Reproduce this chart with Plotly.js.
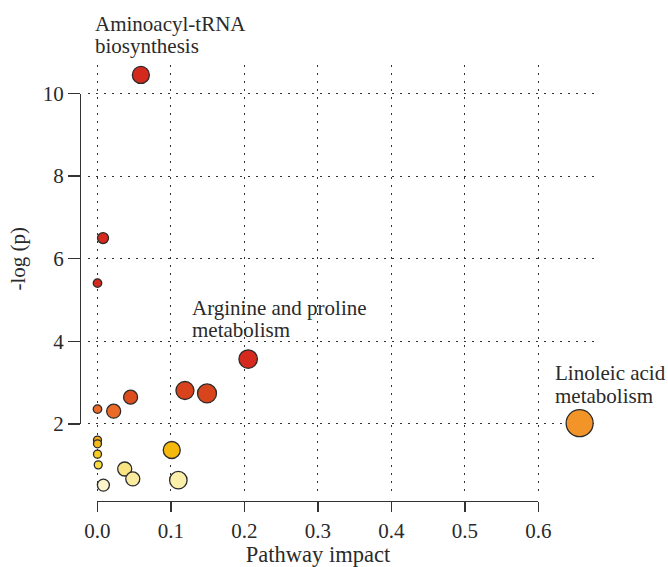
<!DOCTYPE html>
<html>
<head>
<meta charset="utf-8">
<script src="https://cdn.plot.ly/plotly-3.0.1.min.js"></script>
<style>html,body{margin:0;padding:0;background:#fff;}#chart{width:668px;height:567px;}</style>
</head>
<body>
<div id="chart"></div>
<script>
// Pathway analysis values
const impact = [0.059, 0.0075, 0.0, 0.205, 0.119, 0.149, 0.045, 0.022, 0.0, 0.656, 0.0, 0.0, 0.0, 0.001, 0.101, 0.037, 0.048, 0.008, 0.110];
const negLogP = [10.45, 6.50, 5.41, 3.57, 2.81, 2.74, 2.65, 2.31, 2.36, 2.02, 1.61, 1.52, 1.27, 1.01, 1.37, 0.91, 0.67, 0.52, 0.64];
const bubbleSize = [17, 11, 8.5, 18.5, 18, 19, 14, 14, 8.5, 27, 8, 8, 8, 8, 17, 14, 14, 12, 17.5];
const bubbleColor = ['#d42a1e','#d62a1e','#d42a1e','#d62a1e','#d8421c','#d8441c','#dc4e1e','#ec6a28','#ea6a26','#f39428',
                     '#f4ae1a','#f6ba1c','#f8cc20','#f8da40','#f5b80c','#f8e482','#fbeba0','#fdf5cc','#fcefaa'];
const xTicks = [0, 0.1, 0.2, 0.3, 0.4, 0.5, 0.6];
const xTickText = ['0.0','0.1','0.2','0.3','0.4','0.5','0.6'];
const yTicks = [2, 4, 6, 8, 10];
// label lines: text, x (impact units), y, and reference frame for y
const labelLines = [
  {text: 'Aminoacyl-tRNA', x: -0.006, y: 1.0930, yref: 'paper'},
  {text: 'biosynthesis',   x: -0.006, y: 1.0430, yref: 'paper'},
  {text: 'Arginine and proline', x: 0.126, y: 4.80, yref: 'y'},
  {text: 'metabolism',           x: 0.126, y: 4.27, yref: 'y'},
  {text: 'Linoleic acid', x: 0.620, y: 3.23, yref: 'y'},
  {text: 'metabolism',    x: 0.620, y: 2.68, yref: 'y'}
];

const FONT = 'Liberation Serif, Times New Roman, serif';
const FS = 21;
const ink = '#2a2a2a';

const traces = [
  {
    type: 'scatter', mode: 'markers', x: impact, y: negLogP,
    marker: {size: bubbleSize, color: bubbleColor, line: {color: '#2b2b2b', width: 1.3}, opacity: 1},
    showlegend: false, hoverinfo: 'x+y', cliponaxis: false
  },
  {type: 'scatter', mode: 'markers', x: [], y: [], xaxis: 'x2', yaxis: 'y2', showlegend: false, hoverinfo: 'skip'}
];

const layout = {
  width: 668, height: 567,
  margin: {l: 80, r: 68, t: 65, b: 66},
  paper_bgcolor: '#ffffff', plot_bgcolor: 'rgba(0,0,0,0)',
  font: {family: FONT, size: FS, color: ink},
  showlegend: false,
  xaxis: {
    domain: [0.01538, 1], range: [-0.01293, 0.6837],
    tickvals: xTicks, showticklabels: false, ticks: '',
    showgrid: true, gridcolor: '#333', gridwidth: 1, griddash: '2px,6px',
    zeroline: false, showline: false, fixedrange: true
  },
  yaxis: {
    domain: [0.01, 1], range: [0.241, 10.69],
    tickvals: yTicks, showticklabels: false, ticks: '',
    showgrid: true, gridcolor: '#333', gridwidth: 1, griddash: '2px,6px',
    zeroline: false, showline: false, fixedrange: true
  },
  xaxis2: {
    anchor: 'free', position: 0, domain: [0.03365, 0.88173], range: [0, 0.6],
    tickvals: xTicks, ticktext: xTickText, ticks: 'outside', ticklen: 10, tickwidth: 1.3, tickcolor: '#333',
    showline: true, linecolor: '#333', linewidth: 1.3, showgrid: false, zeroline: false,
    tickfont: {family: FONT, size: FS, color: ink},
    title: {text: 'Pathway impact', font: {family: FONT, size: 22.5, color: ink}, standoff: 4}
  },
  yaxis2: {
    anchor: 'free', position: 0, domain: [0.17661, 0.93463], range: [2, 10],
    tickvals: yTicks, ticks: 'outside', ticklen: 12, tickwidth: 1.3, tickcolor: '#333',
    showline: true, linecolor: '#333', linewidth: 1.3, showgrid: false, zeroline: false,
    tickfont: {family: FONT, size: FS, color: ink},
    title: {text: '-log (p)', font: {family: FONT, size: FS, color: ink}, standoff: 10}
  },
  annotations: labelLines.map(l => ({
    text: l.text, x: l.x, y: l.y, xref: 'x', yref: l.yref,
    xanchor: 'left', yanchor: 'middle', align: 'left', showarrow: false,
    font: {family: FONT, size: FS, color: ink}
  }))
};

Plotly.newPlot('chart', traces, layout, {displayModeBar: false, staticPlot: true});
</script>
</body>
</html>
